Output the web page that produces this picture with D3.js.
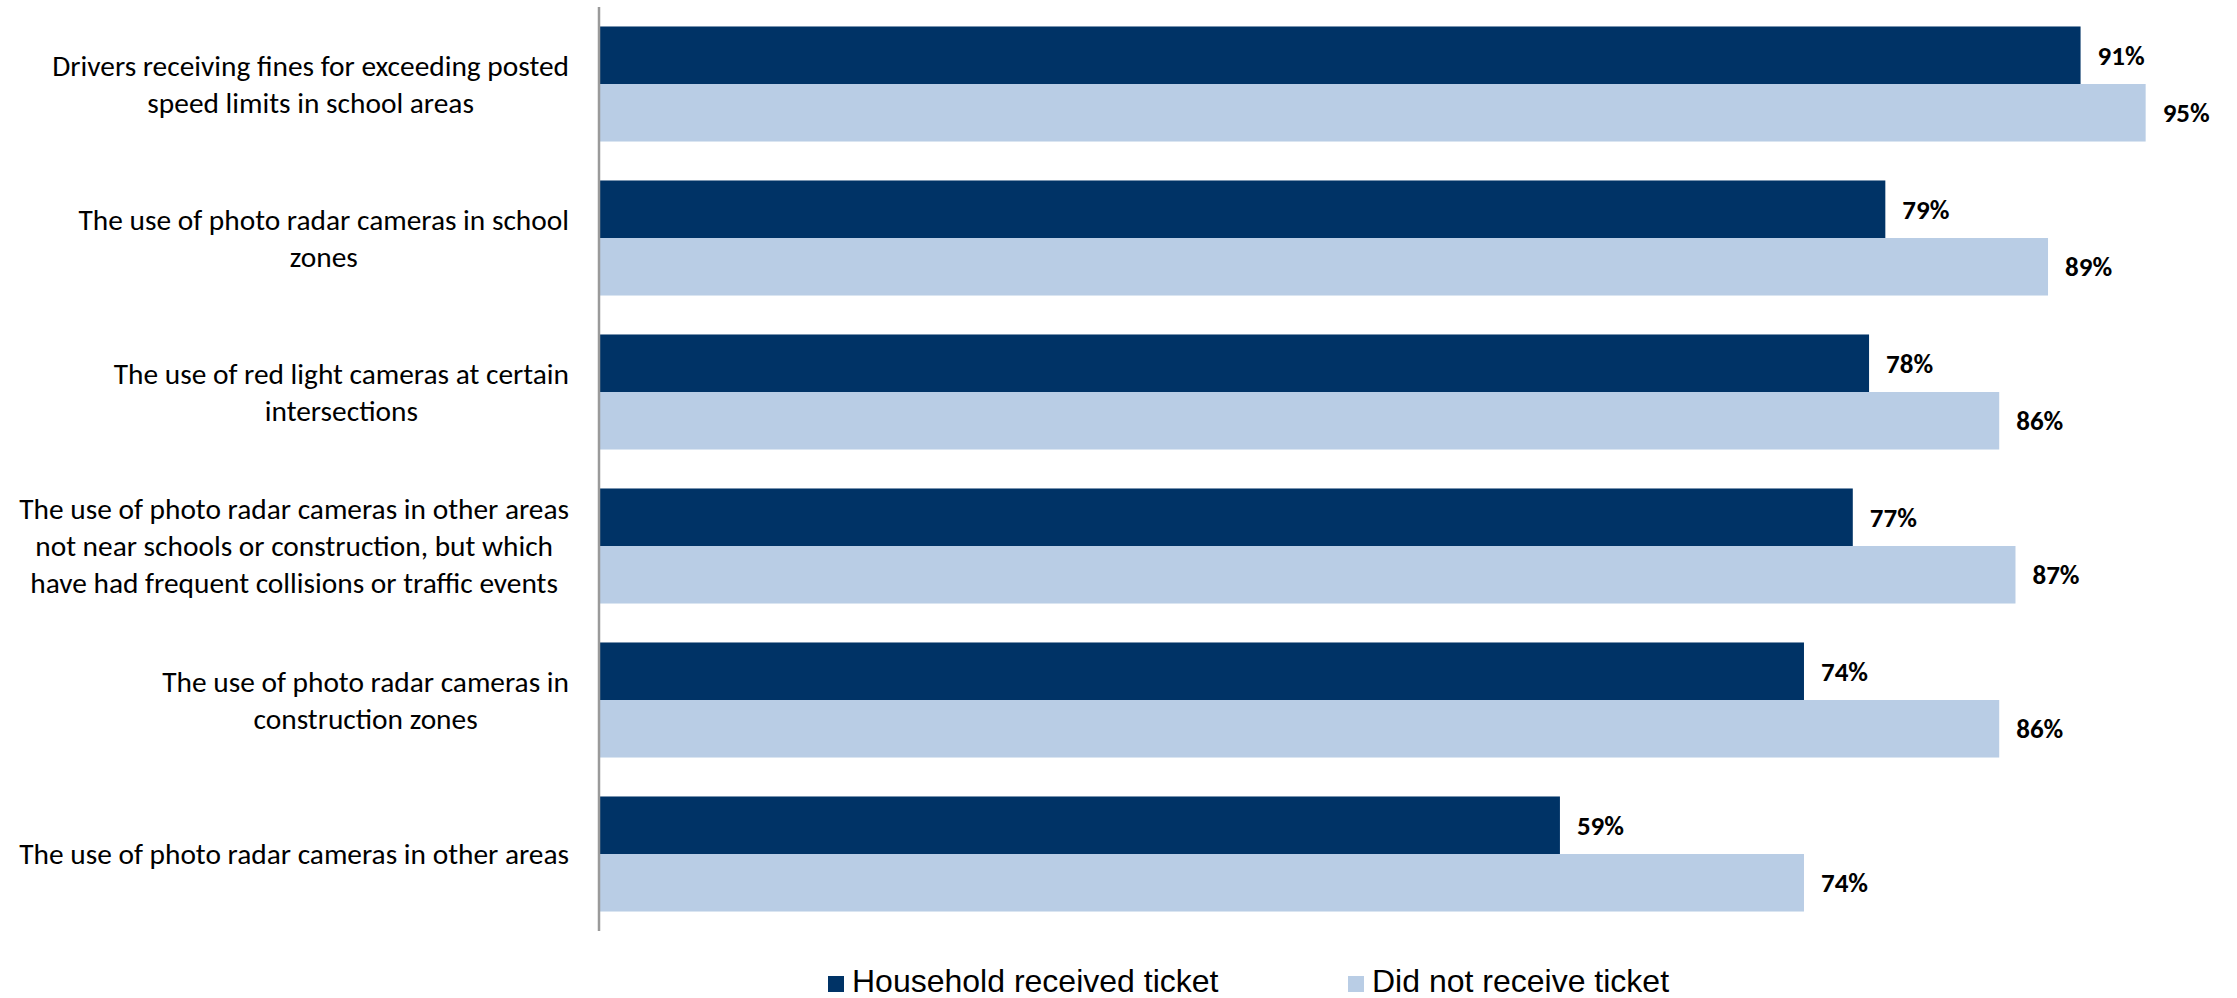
<!DOCTYPE html>
<html><head><meta charset="utf-8">
<script src="https://cdn.jsdelivr.net/npm/d3@7"></script>
<style>
html,body{margin:0;padding:0;background:#fff;}
svg{display:block;}
</style>
</head><body>
<svg id="chart" width="2237" height="998"></svg>
<script>
const categories = [
  ["Drivers receiving fines for exceeding posted", "speed limits in school areas"],
  ["The use of photo radar cameras in school", "zones"],
  ["The use of red light cameras at certain", "intersections"],
  ["The use of photo radar cameras in other areas", "not near schools or construction, but which", "have had frequent collisions or traffic events"],
  ["The use of photo radar cameras in", "construction zones"],
  ["The use of photo radar cameras in other areas"]
];
const receivedTicket = [91, 79, 78, 77, 74, 59];
const noTicket = [95, 89, 86, 87, 86, 74];
const seriesNames = ["Household received ticket", "Did not receive ticket"];
const seriesColors = ["#003366", "#B9CDE5"];

const svg = d3.select("#chart");
const x = d3.scaleLinear().domain([0, 100]).range([600, 2227]);
const y = d3.scaleBand().domain(d3.range(categories.length)).range([7, 931]).paddingInner(0.253).paddingOuter(0.1265);
const sub = d3.scaleBand().domain([0, 1]).range([0, y.bandwidth()]);

const series = [receivedTicket, noTicket];
series.forEach((vals, s) => {
  svg.append("g").selectAll("rect").data(vals).join("rect")
    .attr("x", x(0))
    .attr("y", (d, i) => y(i) + sub(s))
    .attr("width", d => x(d) - x(0))
    .attr("height", sub.bandwidth())
    .attr("fill", seriesColors[s]);
  svg.append("g").selectAll("text").data(vals).join("text")
    .attr("x", d => x(d) + 17)
    .attr("y", (d, i) => y(i) + sub(s) + sub.bandwidth() / 2)
    .attr("dy", "0.36em")
    .attr("font-family", "Carlito, Calibri, Lato, sans-serif")
    .attr("font-weight", "bold")
    .attr("font-size", 27)
    .attr("fill", "#000")
    .text(d => d + "%");
});

// axis line
svg.append("line")
  .attr("x1", x(0) - 1).attr("x2", x(0) - 1)
  .attr("y1", 7).attr("y2", 931)
  .attr("stroke", "#9a9a9a").attr("stroke-width", 2.5);

// category labels: centered multi-line blocks, right-aligned
const labelFont = "Carlito, Calibri, Lato, sans-serif";
const probe = svg.append("text").attr("font-family", labelFont).attr("font-size", 28).text(categories[0][0]);
const probeW = probe.node().getComputedTextLength();
probe.remove();
const labelSize = 28 * 517 / probeW;
const lineH = 37;
const rightEdge = 569;
categories.forEach((lines, i) => {
  const g = svg.append("g");
  const texts = lines.map((ln, k) => g.append("text")
    .attr("font-family", labelFont)
    .attr("font-size", labelSize)
    .attr("fill", "#000")
    .attr("text-anchor", "middle")
    .attr("y", y(i) + y.bandwidth() / 2 + (k - (lines.length - 1) / 2) * lineH)
    .attr("dy", "0.35em")
    .text(ln));
  const maxW = d3.max(texts, t => t.node().getComputedTextLength());
  texts.forEach(t => t.attr("x", rightEdge - maxW / 2));
});

// legend
const legendX = [828, 1348];
seriesNames.forEach((name, s) => {
  svg.append("rect").attr("x", legendX[s]).attr("y", 976).attr("width", 16).attr("height", 16).attr("fill", seriesColors[s]);
  svg.append("text").attr("x", legendX[s] + 24).attr("y", 992)
    .attr("font-family", "Liberation Sans, Arial, sans-serif")
    .attr("font-size", 32).attr("fill", "#000").text(name);
});
</script>
</body></html>
